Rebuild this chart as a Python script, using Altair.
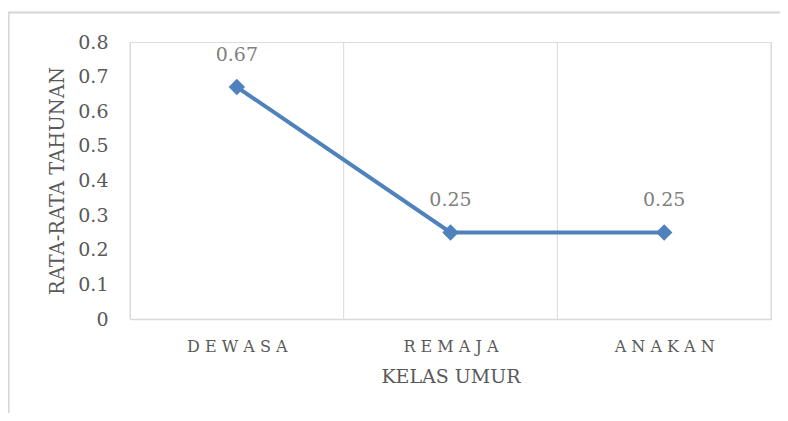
import altair as alt
import pandas as pd

categories = ["DEWASA", "REMAJA", "ANAKAN"]
values = [0.67, 0.25, 0.25]
value_labels = ["0.67", "0.25", "0.25"]
y_ticks = [0, 0.1, 0.2, 0.3, 0.4, 0.5, 0.6, 0.7, 0.8]
x_title = "KELAS UMUR"
y_title = "RATA-RATA TAHUNAN"

positions = [i + 0.5 for i in range(len(categories))]
boundaries = list(range(len(categories) + 1))

df = pd.DataFrame({"kelas": categories, "pos": positions, "nilai": values, "label": value_labels})
df_grid = pd.DataFrame({"b": boundaries})

W, H = 641, 277
FONT = "DejaVu Serif"
BLUE = "#4F81BD"
GRID = "#d9d9d9"
TXT = "#595959"

label_map = "{" + ", ".join(f"'{p}': '{' '.join(list(c))}'" for p, c in zip(positions, categories)) + "}"
label_expr = f"{label_map}[datum.value + '']"

xscale = alt.Scale(domain=[0, len(categories)], nice=False, zero=False)
yscale = alt.Scale(domain=[0, 0.8], nice=False)

x_axis = alt.Axis(values=positions, labelExpr=label_expr, grid=False, ticks=False,
                  domain=True, domainColor=GRID, domainWidth=1.5,
                  labelFont=FONT, labelFontSize=16, labelColor=TXT, labelPadding=19,
                  labelAngle=0, labelOverlap=False, labelFlush=False,
                  title=x_title, titleFont=FONT, titleFontSize=19, titleFontWeight="normal",
                  titleColor=TXT, titlePadding=13)
y_axis = alt.Axis(values=y_ticks, format=".1~f", grid=False, domain=False, ticks=False,
                  labelFont=FONT, labelFontSize=19, labelColor=TXT, labelPadding=22,
                  labelOverlap=False, labelFlush=False,
                  title=y_title, titleFont=FONT, titleFontSize=19.5, titleFontWeight="normal",
                  titleColor=TXT, titlePadding=10)

base = alt.Chart(df).encode(
    x=alt.X("pos:Q", scale=xscale, axis=x_axis),
    y=alt.Y("nilai:Q", scale=yscale, axis=y_axis),
)

grid_rules = alt.Chart(df_grid).mark_rule(color=GRID, strokeWidth=1).encode(
    x=alt.X("b:Q", scale=xscale, axis=x_axis),
    y=alt.value(0), y2=alt.value(H),
)

line = base.mark_line(color=BLUE, strokeWidth=4)
points = base.mark_point(shape="diamond", filled=True, size=270, color=BLUE, opacity=1)
texts = base.mark_text(dy=-32, fontSize=19, color="#7f7f7f", font=FONT).encode(text="label:N")

frame_top = alt.Chart(df_grid).mark_rule(color=GRID, strokeWidth=1.5).encode(
    x=alt.value(-122), x2=alt.value(W + 9), y=alt.value(-29.5)
)
frame_left = alt.Chart(df_grid).mark_rule(color=GRID, strokeWidth=1.5).encode(
    x=alt.value(-121.5), y=alt.value(-29.5), y2=alt.value(H + 94)
)

chart = alt.layer(grid_rules, line, points, texts, frame_top, frame_left).properties(
    width=W, height=H,
    padding={"left": 122, "top": 34, "right": 9, "bottom": 94},
    autosize=alt.AutoSizeParams(type="none"),
).configure_view(stroke=None).configure(background="white")

chart.save("out.html", embed_options={"renderer": "svg", "actions": False})
